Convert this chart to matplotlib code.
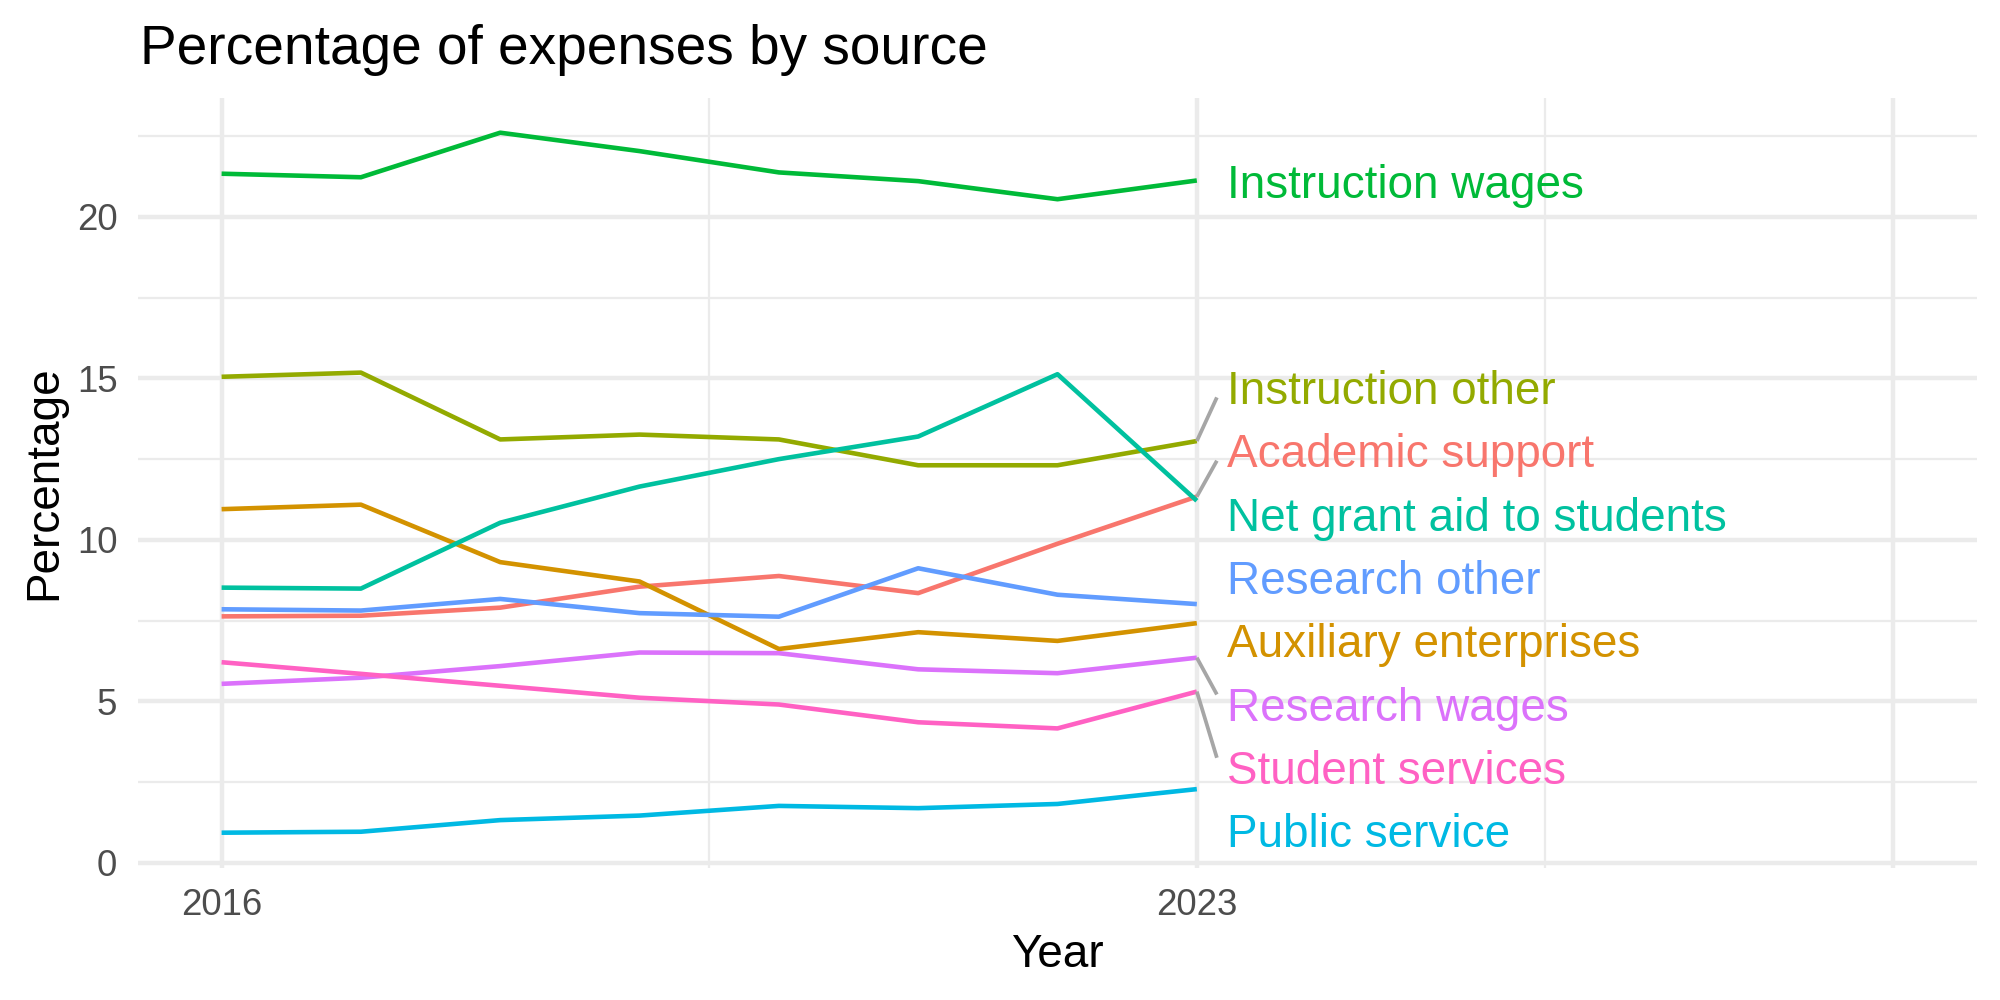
import numpy as np
import matplotlib
matplotlib.use("Agg")
import matplotlib.pyplot as plt
from matplotlib.ticker import FixedLocator

# ---------------- data ----------------
years = [2016, 2017, 2018, 2019, 2020, 2021, 2022, 2023]
categories = ["Academic support", "Auxiliary enterprises", "Instruction other",
              "Instruction wages", "Net grant aid to students", "Public service",
              "Research other", "Research wages", "Student services"]
academic_support = [7.63, 7.65, 7.90, 8.55, 8.88, 8.35, 9.88, 11.34]
auxiliary_enterprises = [10.95, 11.09, 9.31, 8.71, 6.62, 7.14, 6.87, 7.42]
instruction_other = [15.05, 15.18, 13.11, 13.26, 13.11, 12.31, 12.31, 13.06]
instruction_wages = [21.34, 21.23, 22.61, 22.04, 21.38, 21.11, 20.55, 21.13]
net_grant_aid = [8.52, 8.49, 10.53, 11.65, 12.50, 13.20, 15.13, 11.21]
public_service = [0.93, 0.96, 1.32, 1.46, 1.76, 1.69, 1.82, 2.28]
research_other = [7.85, 7.81, 8.17, 7.73, 7.62, 9.12, 8.30, 8.01]
research_wages = [5.54, 5.73, 6.09, 6.51, 6.49, 5.99, 5.87, 6.35]
student_services = [6.21, 5.85, 5.48, 5.11, 4.90, 4.35, 4.16, 5.30]

x_breaks = [2016, 2023, 2028]
x_labels = ["2016", "2023", ""]
x_minor = [2019.5, 2025.5]
y_breaks = [0, 5, 10, 15, 20]
y_minor = [2.5, 7.5, 12.5, 17.5, 22.5]

series = [academic_support, auxiliary_enterprises, instruction_other, instruction_wages,
          net_grant_aid, public_service, research_other, research_wages, student_services]

# ---------------- style ----------------
colors = ["#F8766D", "#D39200", "#93AA00", "#00BA38", "#00C19F",
          "#00B9E3", "#619CFF", "#DB72FB", "#FF61C3"]
plt.rcParams['font.family'] = ['Liberation Sans', 'DejaVu Sans']

fig = plt.figure(figsize=(20 / 3, 10 / 3), dpi=300)
W, H = 2000, 1000
left, right, top, bottom = 138, 1977, 97.7, 867.7
ax = fig.add_axes([left / W, 1 - bottom / H, (right - left) / W, (bottom - top) / H])

# scales (ggplot-like expansion)
xmin, xmax = 2016, 2028
xpad = 0.05 * (xmax - xmin)
ax.set_xlim(xmin - xpad, xmax + xpad)
allv = np.concatenate([np.array(s) for s in series])
ymin, ymax = allv.min(), allv.max()
ypad = 0.05 * (ymax - ymin)
ax.set_ylim(ymin - ypad, ymax + ypad)

grid_col = "#EBEBEB"
major_lw = 1.07
minor_lw = 0.53
for v in x_breaks:
    ax.axvline(v, color=grid_col, lw=major_lw, zorder=0)
for v in x_minor:
    ax.axvline(v, color=grid_col, lw=minor_lw, zorder=0)
for v in y_breaks:
    ax.axhline(v, color=grid_col, lw=major_lw, zorder=0)
for v in y_minor:
    ax.axhline(v, color=grid_col, lw=minor_lw, zorder=0)

for s, c in zip(series, colors):
    ax.plot(years, s, color=c, lw=1.1, solid_capstyle='butt', zorder=2)

# ---------------- labels (simple 1-D repel) ----------------
ends = np.array([s[-1] for s in series])
order = np.argsort(-ends)
gap = 1.96
label_shift = -0.27
pos = ends.copy()
clusters = [[i] for i in order]
changed = True
while changed:
    changed = False
    cpos = []
    for cl in clusters:
        m = np.mean([ends[i] for i in cl])
        k = len(cl)
        cpos.append([m + (k - 1) / 2 * gap - j * gap for j in range(k)])
    for a in range(len(clusters) - 1):
        if cpos[a][-1] - cpos[a + 1][0] < gap - 1e-9:
            clusters[a] = clusters[a] + clusters[a + 1]
            del clusters[a + 1]
            changed = True
            break
for cl in clusters:
    m = np.mean([ends[i] for i in cl])
    k = len(cl)
    for j, i in enumerate(cl):
        pos[i] = m + (k - 1) / 2 * gap - j * gap + (label_shift if k > 1 else 0.0)
pos[np.argmax(ends)] = ends[np.argmax(ends)] - 0.02

label_fs = 11
cap_half = 0.716 * label_fs / 2
label_x = years[-1] + 0.22
for i, name in enumerate(categories):
    ax.annotate(name, xy=(label_x, pos[i]), xytext=(0, -cap_half), textcoords='offset points',
                color=colors[i], fontsize=label_fs, ha='left', va='baseline', zorder=4)
    d = ends[i] - pos[i]
    if abs(d) > 1.35:
        ax.plot([years[-1], years[-1] + 0.144], [ends[i], pos[i] + 0.3 * np.sign(d)],
                color="#A6A6A6", lw=0.9, zorder=3, solid_capstyle='butt')

# ---------------- axes styling ----------------
for sp in ax.spines.values():
    sp.set_visible(False)
ax.xaxis.set_major_locator(FixedLocator(x_breaks))
ax.set_xticklabels(x_labels)
ax.yaxis.set_major_locator(FixedLocator(y_breaks))
ax.set_yticklabels([str(v) for v in y_breaks])
ax.tick_params(axis='both', length=0, pad=4.95, labelsize=8.8, labelcolor="#4D4D4D")

fig.text(1057.5 / W, 1 - 967 / H, "Year", fontsize=11, ha='center', va='baseline')
fig.text(44 / W, 1 - 482.7 / H, "Percentage", fontsize=11, rotation=90,
         ha='center', va='center')
fig.text(140 / W, 1 - 64 / H, "Percentage of expenses by source", fontsize=13.2,
         ha='left', va='baseline')

fig.savefig("out.png", dpi=300, facecolor="white")
